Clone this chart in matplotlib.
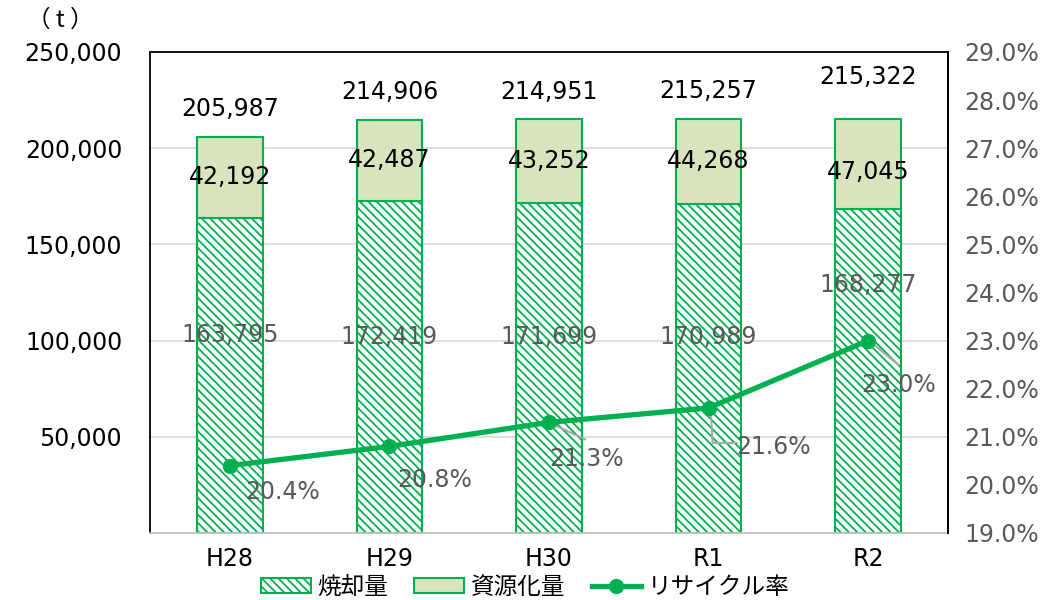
import matplotlib
matplotlib.use("Agg")
import matplotlib.pyplot as plt
import numpy as np
from matplotlib.patches import Patch
from matplotlib.lines import Line2D

# ---- data ----
categories = ["H28", "H29", "H30", "R1", "R2"]
incineration = [163795, 172419, 171699, 170989, 168277]
recycled = [42192, 42487, 43252, 44268, 47045]
totals = [205987, 214906, 214951, 215257, 215322]
recycle_rate = [20.4, 20.8, 21.3, 21.6, 23.0]
left_ticks = [50000, 100000, 150000, 200000, 250000]
right_ticks = [19.0, 20.0, 21.0, 22.0, 23.0, 24.0, 25.0, 26.0, 27.0, 28.0, 29.0]

# ---- style ----
GREEN = "#00B050"
LIGHT = "#D7E4BD"
GRAY_TXT = "#595959"
LEADER = "#A6A6A6"
FS = 17
plt.rcParams["font.family"] = ["DejaVu Sans", "Noto Sans CJK JP"]
plt.rcParams["hatch.linewidth"] = 1.3

fig = plt.figure(figsize=(10.51, 6.0), dpi=100)
ax = fig.add_axes([150/1051, 1-533/600, (948-150)/1051, (533-52)/600])
x = np.arange(len(categories))
w = 0.41

ax.bar(x, incineration, w, color="white", edgecolor=GREEN, hatch="\\\\\\\\", linewidth=1.5, zorder=2)
ax.bar(x, recycled, w, bottom=incineration, color=LIGHT, edgecolor=GREEN, linewidth=1.5, zorder=2)

ax.set_xlim(-0.5, len(categories) - 0.5)
ax.set_ylim(0, 250000)
ax.set_yticks(left_ticks)
ax.set_yticklabels([f"{v:,}" for v in left_ticks], fontsize=FS, color="black")
ax.set_xticks(x)
ax.set_xticklabels(categories, fontsize=FS)
ax.tick_params(axis="y", length=0, pad=20)
ax.tick_params(axis="x", length=0, pad=10)
ax.grid(axis="y", color="#D9D9D9", linewidth=1.2, zorder=0)
ax.set_axisbelow(True)
for s in ["left", "top", "right"]:
    ax.spines[s].set_color("black")
    ax.spines[s].set_linewidth(1.3)
ax.spines["bottom"].set_color("#BFBFBF")
ax.spines["bottom"].set_linewidth(1.3)

# bar labels
total_offsets = [20, 20, 20, 20, 30]  # points above bar top
inc_label_y = [103000, 102000, 102000, 102000, 129000]
for i in range(len(categories)):
    ax.annotate(f"{totals[i]:,}", (x[i], totals[i]), xytext=(0, total_offsets[i]),
                textcoords="offset points", ha="center", va="center", fontsize=FS, color="black", zorder=5)
    ax.text(x[i], incineration[i] + recycled[i] / 2 + (-4000 if i == 4 else 0), f"{recycled[i]:,}",
            ha="center", va="center", fontsize=FS, color="black", zorder=5)
    ax.text(x[i], inc_label_y[i], f"{incineration[i]:,}", ha="center", va="center",
            fontsize=FS, color=GRAY_TXT, zorder=5)

# line on secondary axis
ax2 = ax.twinx()
ax2.set_ylim(19.0, 29.0)
ax2.set_yticks(right_ticks)
ax2.set_yticklabels([f"{v:.1f}%" for v in right_ticks], fontsize=FS, color=GRAY_TXT)
ax2.tick_params(axis="y", length=0, pad=12)
for s in ["left", "top", "bottom"]:
    ax2.spines[s].set_visible(False)
ax2.spines["right"].set_color("black")
ax2.spines["right"].set_linewidth(1.3)
ax2.plot(x, recycle_rate, color=GREEN, linewidth=3.8, marker="o", markersize=10, zorder=4)

# percentage labels (offsets in pixels converted to points)
pct_offsets = [(53, -26), (45, -34), (38, -37), (65, -39), (30, -44)]
for i, (dx, dy) in enumerate(pct_offsets):
    ax2.annotate(f"{recycle_rate[i]:.1f}%", (x[i], recycle_rate[i]),
                 xytext=(dx * 0.72, dy * 0.72), textcoords="offset points",
                 ha="center", va="center", fontsize=FS, color=GRAY_TXT, zorder=6)

# leader lines (pixel offsets from the point)
def leader(i, pts):
    trans = ax2.transData
    px, py = trans.transform((x[i], recycle_rate[i]))
    xs = [px + p[0] for p in pts]
    ys = [py - p[1] for p in pts]
    inv = ax2.transData.inverted()
    d = inv.transform(np.column_stack([xs, ys]))
    ax2.plot(d[:, 0], d[:, 1], color=LEADER, linewidth=1.5, zorder=3.5)

leader(2, [(2, 1), (36, 17)])
leader(3, [(2, 0), (4, 35), (28, 35)])
leader(4, [(2, 1), (30, 24)])

fig.text(60/1051, 1 - 20/600, "（ t ）", ha="center", va="center", fontsize=17,
         family=["Noto Sans CJK JP", "DejaVu Sans"])

handles = [
    Patch(facecolor="white", edgecolor=GREEN, hatch="\\\\\\\\", linewidth=1.5),
    Patch(facecolor=LIGHT, edgecolor=GREEN, linewidth=1.5),
    Line2D([0], [0], color=GREEN, linewidth=3.8, marker="o", markersize=10),
]
fig.legend(handles, ["焼却量", "資源化量", "リサイクル率"], loc="center",
           bbox_to_anchor=(0.5, 13/600), ncol=3, frameon=False,
           handlelength=2.1, handleheight=0.6, handletextpad=0.3, columnspacing=1.1,
           borderpad=0.1,
           prop={"family": ["Noto Sans CJK JP", "DejaVu Sans"], "size": 17})

fig.savefig("out.png", dpi=100)
